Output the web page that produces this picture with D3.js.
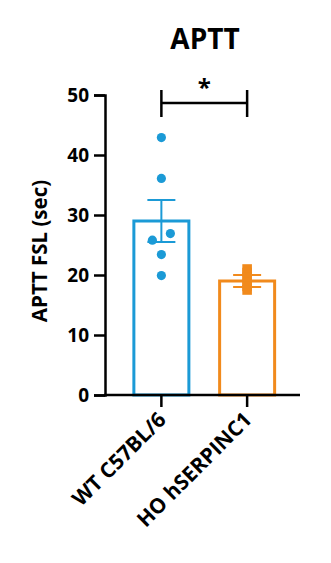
<!DOCTYPE html>
<html>
<head>
<meta charset="utf-8">
<script src="https://cdn.jsdelivr.net/npm/d3@7"></script>
<style>
  body { margin: 0; background: #fff; }
  text { font-family: "Open Sans", "DejaVu Sans", sans-serif; font-weight: 700; }
</style>
</head>
<body>
<div id="chart"></div>
<script>
const groups = ["WT C57BL/6", "HO hSERPINC1"];
const colors = ["#1b9ad6", "#f18a1c"];
const means = [29.0, 19.0];
const sems = [3.5, 1.0];
const wtPoints = [42.9, 36.1, 26.9, 25.8, 23.4, 19.9];
const hoPoints = [21.0, 20.4, 19.6, 18.8, 18.1, 17.5];
const yTicks = [0, 10, 20, 30, 40, 50];

const width = 331, height = 563;
const svg = d3.select('#chart').append('svg')
    .attr('width', width)
    .attr('height', height);

const y = d3.scaleLinear().domain([0, 50]).range([395, 95]);
const x = d3.scaleBand().domain(groups).range([118.5, 290]);
const barW = 55;

// title
svg.append('text')
    .attr('x', 205).attr('y', 49)
    .attr('text-anchor', 'middle')
    .attr('font-size', 28)
    .text('APTT');

// y axis
const yAxis = svg.append('g')
    .attr('transform', 'translate(105,0)')
    .call(d3.axisLeft(y).tickValues(yTicks).tickSize(11).tickPadding(5));
yAxis.select('.domain').attr('stroke-width', 2.5).attr('stroke', '#000');
yAxis.selectAll('.tick line').attr('stroke-width', 2.5);
yAxis.selectAll('.tick text')
    .attr('font-size', 19).attr('fill', '#000')
    .attr('font-family', '"Open Sans", sans-serif').attr('font-weight', 700);

svg.append('text')
    .attr('transform', 'translate(47,' + y(24) + ') rotate(-90)')
    .attr('text-anchor', 'middle')
    .attr('font-size', 20.5)
    .text('APTT FSL (sec)');

// bars
const bars = svg.append('g');
groups.forEach((g, i) => {
    const cx = x(g) + x.bandwidth() / 2;
    bars.append('rect')
        .attr('x', cx - barW / 2)
        .attr('y', y(means[i]))
        .attr('width', barW)
        .attr('height', y(0) - y(means[i]))
        .attr('fill', 'none')
        .attr('stroke', colors[i])
        .attr('stroke-width', 3);
});

// x axis
const xAxis = svg.append('g').attr('transform', 'translate(0,' + y(0) + ')');
xAxis.append('line')
    .attr('x1', 104).attr('x2', 300)
    .attr('stroke', '#000').attr('stroke-width', 2.5);
groups.forEach((g, i) => {
    const cx = x(g) + x.bandwidth() / 2;
    xAxis.append('line')
        .attr('x1', cx).attr('x2', cx)
        .attr('y1', 0).attr('y2', 12)
        .attr('stroke', '#000').attr('stroke-width', 2.5);
    xAxis.append('text')
        .attr('transform', 'translate(' + (cx + 6) + ',26) rotate(-45)')
        .attr('text-anchor', 'end')
        .attr('font-size', 21)
        .text(g);
});

// error bars
groups.forEach((g, i) => {
    const cx = x(g) + x.bandwidth() / 2;
    const eg = svg.append('g').attr('stroke', colors[i]).attr('stroke-width', 2);
    eg.append('line').attr('x1', cx).attr('x2', cx)
        .attr('y1', y(means[i] - sems[i])).attr('y2', y(means[i] + sems[i]));
    [means[i] - sems[i], means[i] + sems[i]].forEach(v => {
        eg.append('line').attr('x1', cx - 14).attr('x2', cx + 14)
            .attr('y1', y(v)).attr('y2', y(v));
    });
});

// points
const wtX = [0, 0, 9, -9, 0, 0];
const cx0 = x(groups[0]) + x.bandwidth() / 2;
svg.append('g').selectAll('circle')
    .data(wtPoints)
    .enter()
    .append('circle')
    .attr('cx', (d, i) => cx0 + wtX[i])
    .attr('cy', d => y(d))
    .attr('r', 4.6)
    .attr('fill', colors[0]);

const cx1 = x(groups[1]) + x.bandwidth() / 2;
svg.append('g').selectAll('rect')
    .data(hoPoints)
    .enter()
    .append('rect')
    .attr('x', cx1 - 4.8)
    .attr('y', d => y(d) - 4.8)
    .attr('width', 9.6)
    .attr('height', 9.6)
    .attr('fill', colors[1]);

// significance bracket
const sig = svg.append('g').attr('stroke', '#000').attr('stroke-width', 2.5);
sig.append('line').attr('x1', cx0).attr('x2', cx1).attr('y1', 103).attr('y2', 103);
sig.append('line').attr('x1', cx0).attr('x2', cx0).attr('y1', 90).attr('y2', 117);
sig.append('line').attr('x1', cx1).attr('x2', cx1).attr('y1', 90).attr('y2', 117);
svg.append('text')
    .attr('x', (cx0 + cx1) / 2).attr('y', 96)
    .attr('text-anchor', 'middle')
    .attr('font-size', 24)
    .text('*');
</script>
</body>
</html>
